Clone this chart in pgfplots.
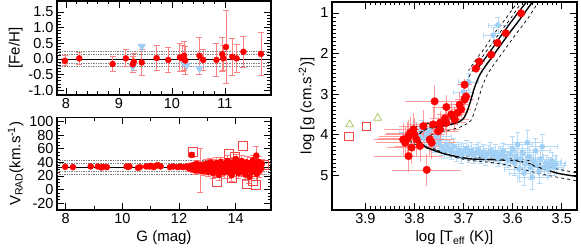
\documentclass[border=0pt]{standalone}
\usepackage{fontspec}
\setmainfont{Liberation Sans}
\usepackage{pgfplots}
\pgfplotsset{compat=1.18}
\definecolor{ered}{RGB}{255,130,130}
\definecolor{lblue}{RGB}{160,208,245}
\definecolor{lbluee}{RGB}{180,218,248}
\definecolor{tgreen}{RGB}{160,200,90}
\definecolor{sqred}{RGB}{240,70,70}
\pgfplotsset{idl/.style={
  scale only axis,
  axis line style={line width=1.1pt},
  every tick/.style={black, line width=0.8pt},
  major tick length=7pt, minor tick length=3.5pt,
  tick align=inside,
  /pgf/number format/assume math mode=true,
  tick label style={font=\fontsize{14.5}{16}\selectfont},
  label style={font=\fontsize{15}{17}\selectfont},
  clip=true,
}}
\begin{document}
\begin{tikzpicture}
\useasboundingbox (0,0) rectangle (581pt,251pt);
% ---------------- top-left: [Fe/H]
\begin{axis}[idl, at={(57pt,156pt)}, anchor=south west, width=214pt, height=94pt,
  xmin=7.83, xmax=11.87, ymin=-1.15, ymax=1.85,
  xtick={8,9,10,11}, minor x tick num=4,
  ytick={-1,-0.5,0,0.5,1,1.5}, minor y tick num=4,
  yticklabel style={/pgf/number format/.cd, fixed, fixed zerofill, precision=1},
  ylabel={[Fe/H]}, ylabel style={yshift=-1pt},
]
\addplot[gray, densely dotted, line width=0.7pt] coordinates {(7.83,0.15) (11.87,0.15)};
\addplot[gray, densely dotted, line width=0.7pt] coordinates {(7.83,0.25) (11.87,0.25)};
\addplot[gray, densely dotted, line width=0.7pt] coordinates {(7.83,-0.15) (11.87,-0.15)};
\addplot[gray, densely dotted, line width=0.7pt] coordinates {(7.83,-0.25) (11.87,-0.25)};
\addplot[black, line width=0.8pt] coordinates {(7.83,0) (11.87,0)};
\addplot[only marks, mark=triangle*, mark size=4.5pt, lblue, mark options={rotate=180}] coordinates {
(9.43,0.40) (10.52,-0.30) (9.26,-0.25) (10.22,-0.12) (10.28,-0.20)};
\addplot[only marks, mark=*, mark size=3pt, red,
  error bars/.cd, y dir=both, y explicit,
  error bar style={ered, line width=0.8pt},
  error mark options={ered, rotate=90, mark size=3pt, line width=0.8pt}]
  table[x=G, y=F, y error=e] {
G F e
7.98 -0.06 0.16
8.25 0.02 0.19
8.88 -0.16 0.25
9.13 0.02 0.27
9.26 -0.17 0.25
9.28 -0.09 0.27
9.43 -0.11 0.40
9.71 0.03 0.41
9.93 -0.03 0.39
10.15 0.05 0.45
10.20 0.02 0.42
10.23 0.10 0.45
10.25 -0.05 0.45
10.52 0.10 0.60
10.59 -0.03 0.35
10.84 -0.03 0.52
10.95 0.15 0.55
10.97 0.02 0.40
11.02 0.38 1.16
11.14 0.07 0.58
11.22 0.02 0.45
11.35 0.23 0.50
11.68 0.16 0.69
};
\end{axis}
% ---------------- bottom-left: V_RAD
\begin{axis}[idl, at={(57pt,41pt)}, anchor=south west, width=214pt, height=92.5pt,
  xmin=7.69, xmax=15.25, ymin=-30, ymax=106,
  xtick={8,10,12,14}, minor x tick num=1,
  ytick={-20,0,20,40,60,80,100}, minor y tick num=3,
  xlabel={G (mag)},
  ylabel={V\textsubscript{RAD}(km.s\textsuperscript{-1})}, ylabel style={yshift=-1pt},
]
\addplot[gray, densely dotted, line width=0.7pt] coordinates {(7.69,38.7) (15.25,38.7)};
\addplot[gray, densely dotted, line width=0.7pt] coordinates {(7.69,42.7) (15.25,42.7)};
\addplot[gray, densely dotted, line width=0.7pt] coordinates {(7.69,26.7) (15.25,26.7)};
\addplot[gray, densely dotted, line width=0.7pt] coordinates {(7.69,22.7) (15.25,22.7)};
\addplot[black, line width=0.8pt] coordinates {(7.69,32.7) (15.25,32.7)};
\addplot[only marks, mark=square, mark size=4.5pt, sqred, line width=0.7pt] coordinates {
(12.48,56) (14.27,65) (13.76,52) (13.98,48) (13.35,12) (13.85,17) (14.39,9) (14.71,7) (15.0,37) (14.6,13)};
\addplot[only marks, mark=*, mark size=3pt, red,
  error bars/.cd, y dir=both, y explicit,
  error bar style={ered, line width=0.7pt},
  error mark options={ered, rotate=90, mark size=3pt, line width=0.7pt}]
  table[x=G, y=V, y error=e] {
G V e
7.98 33.5 1
8.25 33 1
8.88 34 1
9.13 34 1
9.26 32.5 1
9.32 33.5 1
9.45 33 1
10.15 34 1
10.20 33.5 1
10.25 34 1
10.55 32 1
10.62 33 1
10.84 34 1
10.95 34 1
11.00 35 1
11.10 33 1
11.18 35 1
11.25 36 1
11.35 34 1
11.68 33 1
11.80 34 1
11.95 33 1
12.05 34 1
12.15 33 2
12.25 34 2
12.32 33 3
12.36 31 4
12.40 35 3
12.45 51 4
12.48 30 5
12.52 36 4
12.55 33 6
12.58 28 5
12.62 38 5
12.65 31 4
12.68 34 6
12.72 29 5
12.75 28 32
12.78 36 5
12.82 32 6
12.85 27 6
12.88 35 5
12.92 30 7
12.95 38 6
12.98 33 5
13.02 26 7
13.05 36 6
13.08 31 8
13.11 40 6
13.14 29 7
13.17 34 6
13.20 24 8
13.23 37 7
13.26 32 6
13.29 27 7
13.32 39 8
13.35 30 7
13.38 35 6
13.41 22 8
13.44 33 7
13.47 41 7
13.50 28 8
13.53 36 6
13.56 31 9
13.59 25 8
13.62 38 7
13.65 33 8
13.68 29 7
13.71 42 8
13.74 35 6
13.77 26 9
13.80 31 8
13.83 37 7
13.86 21 9
13.89 34 8
13.92 40 7
13.95 28 8
13.98 33 9
14.01 45 7
14.04 30 8
14.07 36 9
14.10 24 8
14.13 39 7
14.16 32 9
14.19 27 8
14.22 42 8
14.25 34 7
14.28 29 9
14.31 37 8
14.34 22 9
14.37 33 8
14.40 40 9
14.43 28 8
14.46 35 7
14.49 19 10
14.52 38 9
14.55 31 8
14.58 26 9
14.61 43 8
14.64 34 9
14.67 29 10
14.73 50 14
14.72 37 9
14.75 23 10
14.78 33 9
14.81 41 8
14.84 28 10
14.87 35 9
14.90 31 8
14.93 38 7
};
\end{axis}
% ---------------- right: HR diagram
\begin{axis}[idl, at={(332pt,41pt)}, anchor=south west, width=245pt, height=208pt,
  x dir=reverse, y dir=reverse,
  xmin=3.469, xmax=3.968, ymin=0.73, ymax=5.86,
  xtick={3.5,3.6,3.7,3.8,3.9}, minor x tick num=9,
  ytick={1,2,3,4,5}, minor y tick num=9,
  xticklabel style={/pgf/number format/.cd, fixed, precision=1},
  xlabel={log [T\textsubscript{eff} (K)]},
  ylabel={log [g (cm.s\textsuperscript{-2})]}, ylabel style={yshift=-1pt},
]
\addplot[only marks, mark=*, mark size=2.6pt, lblue,
  error bars/.cd, x dir=both, x explicit, y dir=both, y explicit,
  error bar style={lbluee, line width=0.7pt},
  error mark options={lbluee, rotate=90, mark size=2.5pt, line width=0.7pt}]
  table[x=T, y=g, x error=ex, y error=ey] {
T g ex ey
3.800 3.95 0.03 0.25
3.790 4.05 0.03 0.20
3.785 3.85 0.03 0.20
3.780 4.10 0.03 0.20
3.775 4.00 0.03 0.20
3.770 3.90 0.03 0.20
3.765 4.15 0.03 0.20
3.760 4.25 0.03 0.20
3.755 4.05 0.03 0.20
3.750 4.20 0.03 0.20
3.745 4.30 0.03 0.20
3.740 4.38 0.03 0.20
3.735 4.25 0.03 0.20
3.730 4.35 0.03 0.20
3.725 4.42 0.03 0.20
3.720 4.30 0.03 0.20
3.715 4.45 0.03 0.20
3.710 4.38 0.03 0.20
3.705 4.50 0.03 0.20
3.700 4.42 0.03 0.20
3.695 4.35 0.03 0.20
3.690 4.48 0.03 0.20
3.685 4.40 0.03 0.20
3.680 4.52 0.03 0.20
3.675 4.45 0.03 0.20
3.670 4.38 0.03 0.20
3.665 4.50 0.03 0.20
3.660 4.43 0.03 0.20
3.655 4.55 0.03 0.20
3.650 4.47 0.03 0.20
3.645 4.40 0.03 0.20
3.640 4.52 0.03 0.20
3.635 4.45 0.03 0.20
3.630 4.58 0.03 0.20
3.625 4.50 0.03 0.20
3.620 4.42 0.03 0.20
3.615 4.55 0.03 0.20
3.610 4.62 0.03 0.20
3.605 4.48 0.03 0.20
3.600 4.35 0.03 0.30
3.597 4.70 0.03 0.30
3.593 4.55 0.03 0.20
3.590 4.25 0.03 0.30
3.587 4.85 0.03 0.30
3.584 4.60 0.03 0.20
3.580 4.45 0.03 0.20
3.577 4.95 0.03 0.30
3.574 4.70 0.03 0.20
3.570 4.20 0.03 0.30
3.567 4.55 0.03 0.20
3.564 4.80 0.03 0.30
3.560 5.05 0.03 0.30
3.557 4.65 0.03 0.20
3.553 4.40 0.03 0.30
3.550 4.75 0.03 0.20
3.546 4.90 0.03 0.30
3.543 4.60 0.03 0.20
3.540 4.30 0.03 0.30
3.536 4.80 0.03 0.20
3.532 4.70 0.03 0.20
3.528 4.85 0.03 0.20
3.524 4.75 0.03 0.20
3.520 4.65 0.02 0.20
3.516 4.80 0.02 0.20
3.512 4.72 0.02 0.20
3.630 1.30 0.02 0.20
3.640 1.55 0.02 0.20
3.700 2.95 0.02 0.20
3.690 2.70 0.02 0.20
};
\addplot[only marks, mark=*, mark size=3.8pt, red,
  error bars/.cd, x dir=both, x explicit, y dir=both, y explicit,
  error bar style={ered, opacity=0.8, line width=0.7pt}, error mark=none]
  table[x=T, y=g, x error=ex, y error=ey] {
T g ex ey
3.583 1.01 0.010 0.10
3.614 1.50 0.010 0.10
3.631 1.74 0.010 0.10
3.644 2.03 0.010 0.12
3.668 2.20 0.012 0.12
3.675 2.37 0.012 0.12
3.698 2.77 0.015 0.15
3.695 3.06 0.015 0.15
3.698 3.14 0.020 0.20
3.705 3.38 0.020 0.20
3.725 3.50 0.030 0.30
3.759 3.18 0.060 0.40
3.735 3.32 0.030 0.30
3.708 3.26 0.020 0.30
3.712 3.46 0.020 0.30
3.718 3.63 0.030 0.30
3.735 3.71 0.040 0.30
3.748 3.87 0.040 0.35
3.762 3.75 0.050 0.40
3.782 3.79 0.050 0.40
3.802 3.87 0.060 0.40
3.812 4.04 0.060 0.40
3.819 4.20 0.060 0.40
3.809 3.96 0.050 0.40
3.796 4.12 0.050 0.40
3.769 4.12 0.050 0.40
3.765 4.20 0.050 0.40
3.752 3.92 0.040 0.35
3.812 4.53 0.070 0.40
3.775 4.87 0.070 0.40
3.789 4.28 0.050 0.40
3.823 4.12 0.060 0.40
3.806 4.32 0.050 0.40
3.748 3.71 0.030 0.30
3.738 3.60 0.030 0.30
3.815 4.10 0.060 0.40
3.800 4.00 0.060 0.40
};
\addplot[only marks, mark=triangle, mark size=4.5pt, tgreen, line width=0.7pt] coordinates {(3.932,3.75) (3.875,3.59)};
\addplot[only marks, mark=square, mark size=4.2pt, sqred, line width=0.7pt] coordinates {(3.898,3.79) (3.934,4.04)};
% isochrones
\addplot[black, dashed, line width=0.7pt, smooth] coordinates {
(3.580,0.70) (3.605,1.15) (3.627,1.50) (3.645,1.80) (3.661,2.07) (3.676,2.32) (3.688,2.55) (3.698,2.85) (3.705,3.14) (3.712,3.40) (3.722,3.58) (3.740,3.66) (3.770,3.72) (3.795,3.80) (3.810,3.95) (3.812,4.10) (3.800,4.23) (3.780,4.32) (3.750,4.40) (3.715,4.47) (3.685,4.55) (3.640,4.58) (3.600,4.60) (3.567,4.64) (3.540,4.74) (3.505,4.86) (3.460,4.96)};
\addplot[black, dashed, line width=0.7pt, smooth] coordinates {
(3.546,0.70) (3.570,1.15) (3.592,1.50) (3.610,1.80) (3.626,2.07) (3.641,2.32) (3.653,2.55) (3.663,2.85) (3.670,3.14) (3.677,3.40) (3.685,3.65) (3.700,3.78) (3.725,3.88) (3.755,3.95) (3.770,4.05) (3.772,4.18) (3.762,4.33) (3.745,4.45) (3.720,4.55) (3.690,4.63) (3.650,4.68) (3.620,4.73) (3.590,4.82) (3.553,4.94) (3.510,5.05) (3.460,5.16)};
\addplot[black, dashed, line width=0.7pt, smooth] coordinates {
(3.588,0.70) (3.613,1.12) (3.637,1.50) (3.656,1.85) (3.673,2.12) (3.690,2.42)};
\addplot[black, line width=1.3pt, smooth] coordinates {
(3.570,0.70) (3.597,1.12) (3.620,1.50) (3.640,1.85) (3.656,2.12) (3.676,2.44)};
\addplot[black, line width=1.4pt, smooth] coordinates {
(3.558,0.70) (3.585,1.15) (3.607,1.50) (3.625,1.80) (3.641,2.07) (3.656,2.32) (3.668,2.55) (3.678,2.85) (3.685,3.14) (3.692,3.40) (3.700,3.60) (3.712,3.70) (3.735,3.77) (3.765,3.83) (3.783,3.90) (3.791,4.02) (3.790,4.15) (3.780,4.28) (3.765,4.37) (3.740,4.47) (3.710,4.55) (3.685,4.60) (3.640,4.62) (3.600,4.64) (3.573,4.69) (3.550,4.80) (3.533,4.86) (3.506,4.96) (3.460,5.05)};
\end{axis}
\end{tikzpicture}
\end{document}
